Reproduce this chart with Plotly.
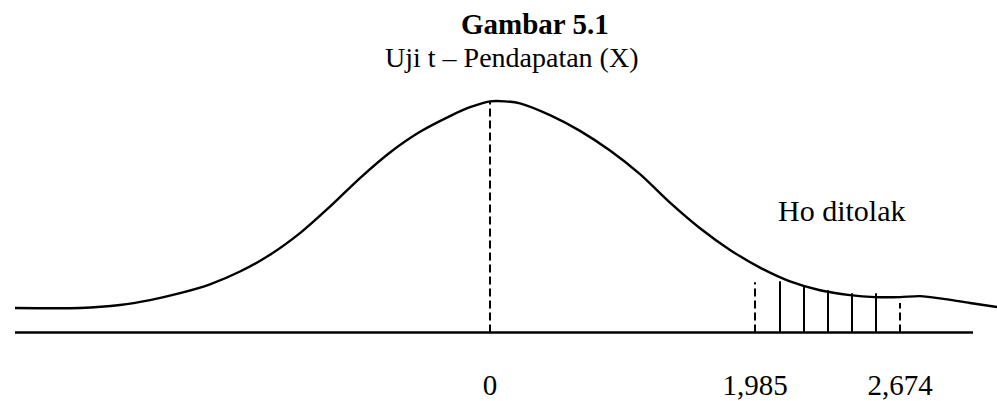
import plotly.graph_objects as go

# Outline of the t distribution sketch (schematic drawing units, centre at 0)
curve_x = [-4.75, -4.10, -3.70, -3.40, -3.10, -2.80, -2.50, -2.20, -1.90, -1.60,
           -1.30, -1.00, -0.70, -0.40, -0.20, 0.00, 0.15, 0.30, 0.60, 0.90,
           1.20, 1.50, 1.80, 2.10, 2.40, 2.70, 3.00, 3.30, 3.60, 3.85,
           4.10, 4.30, 4.55, 4.80, 5.07]
curve_y = [0.25, 0.25, 0.28, 0.33, 0.40, 0.49, 0.62, 0.79, 1.01, 1.28,
           1.57, 1.83, 2.04, 2.20, 2.29, 2.35, 2.35, 2.33, 2.21, 2.05,
           1.85, 1.61, 1.32, 1.06, 0.84, 0.66, 0.52, 0.43, 0.38, 0.36,
           0.36, 0.37, 0.34, 0.30, 0.26]

# Horizontal axis of the sketch
base_x = [-4.75, 4.83]

# Centre line and critical values (t table / t computed)
centre_x = 0.0
centre_top = 2.35
crit_x = [2.65, 4.10]
crit_top = [0.51, 0.30]

# Rejection region, drawn as vertical strokes
hatch_x = [2.90, 3.14, 3.38, 3.62, 3.86]
hatch_top = [0.52, 0.47, 0.43, 0.40, 0.40]

# Tick labels under the axis
tick_pos = [0.0, 2.65, 4.10]
tick_text = ["0", "1,985", "2,674"]

title_text = "<b>Gambar 5.1</b>"
subtitle_text = "Uji t \u2013 Pendapatan (X)"
region_text = "Ho ditolak"

W, H = 997, 401
MB = 30
FONT = "Liberation Serif, Times New Roman, serif"
INK = "#000000"

fig = go.Figure()

fig.add_trace(go.Scatter(x=curve_x, y=curve_y, mode="lines",
                         line=dict(color=INK, width=2.4, shape="spline", smoothing=0.8),
                         hoverinfo="skip"))
fig.add_trace(go.Scatter(x=base_x, y=[0, 0], mode="lines",
                         line=dict(color=INK, width=2.4), hoverinfo="skip"))

# dashed verticals
fig.add_trace(go.Scatter(x=[centre_x, centre_x], y=[0, centre_top], mode="lines",
                         line=dict(color=INK, width=2, dash="8px,4px"), hoverinfo="skip"))
for cx, ct in zip(crit_x, crit_top):
    fig.add_trace(go.Scatter(x=[cx, cx], y=[0, ct], mode="lines",
                             line=dict(color=INK, width=2, dash="8px,4px"), hoverinfo="skip"))

# solid hatch strokes
hx, hy = [], []
for x, t in zip(hatch_x, hatch_top):
    hx += [x, x, None]
    hy += [0, t, None]
fig.add_trace(go.Scatter(x=hx, y=hy, mode="lines",
                         line=dict(color=INK, width=2), hoverinfo="skip"))

plot_h = H - MB
fig.add_annotation(text=title_text, xref="paper", yref="paper",
                   x=535 / W, y=(plot_h - 6) / plot_h, xanchor="center", yanchor="top",
                   showarrow=False, font=dict(family=FONT, size=29, color=INK))
fig.add_annotation(text=subtitle_text, xref="paper", yref="paper",
                   x=512 / W, y=(plot_h - 41) / plot_h, xanchor="center", yanchor="top",
                   showarrow=False, font=dict(family=FONT, size=28, color=INK))
fig.add_annotation(text=region_text, xref="paper", yref="paper",
                   x=776 / W, y=(plot_h - 195) / plot_h, xanchor="left", yanchor="top",
                   showarrow=False, font=dict(family=FONT, size=30, color=INK))

fig.update_layout(
    width=W, height=H,
    margin=dict(l=0, r=0, t=0, b=MB),
    paper_bgcolor="white", plot_bgcolor="white",
    showlegend=False,
    xaxis=dict(range=[-4.90, 5.07], showgrid=False, zeroline=False, showline=False,
               ticks="", tickmode="array", tickvals=tick_pos, ticktext=tick_text,
               tickfont=dict(family=FONT, size=29, color=INK), fixedrange=True),
    yaxis=dict(range=[(338 - (H - MB)) / 100, 3.38], showgrid=False, zeroline=False,
               showline=False, showticklabels=False, ticks="", fixedrange=True),
)

fig.write_html("out.html")
